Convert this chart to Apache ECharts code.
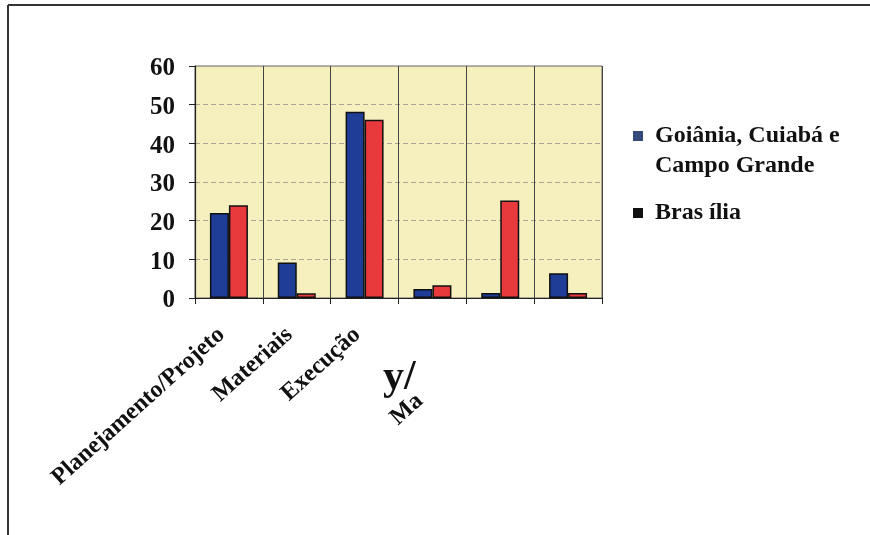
<!DOCTYPE html>
<html>
<head>
<meta charset="utf-8">
<script src="https://cdn.jsdelivr.net/npm/echarts@6/dist/echarts.min.js"></script>
<style>
html,body{margin:0;padding:0;background:#fff;}
#c{width:870px;height:535px;}
</style>
</head>
<body>
<div id="c"></div>
<script>
var categories = ['Planejamento/Projeto', 'Materiais', 'Execução', '', '', ''];
var seriesNames = ['Goiânia, Cuiabá e Campo Grande', 'Bras ília'];
var goianiaValues = [22, 9.2, 48.2, 2.3, 1.3, 6.4];
var brasiliaValues = [24, 1.2, 46.1, 3.3, 25.2, 1.3];
var yTicks = { min: 0, max: 60, interval: 10 };
var annotations = ['y/', 'Ma'];

var FONT = "'Liberation Serif', 'Times New Roman', serif";
var chart = echarts.init(document.getElementById('c'), null, { renderer: 'canvas' });

chart.setOption({
  backgroundColor: '#ffffff',
  animation: false,
  grid: {
    left: 195, right: 268, top: 66, bottom: 237,
    show: true,
    backgroundColor: '#f6f0be',
    borderColor: '#666',
    borderWidth: 1
  },
  legend: {
    orient: 'vertical',
    left: 628,
    top: 86,
    icon: 'rect',
    itemWidth: 10,
    itemHeight: 10,
    itemGap: 17,
    selectedMode: false,
    formatter: function (name) {
      return name === seriesNames[0] ? ' \nGoiânia, Cuiabá e\nCampo Grande' : name;
    },
    textStyle: {
      fontFamily: FONT, fontWeight: 'bold', fontSize: 24, color: '#111',
      lineHeight: 30, padding: [0, 0, 0, 7]
    },
    data: [
      { name: seriesNames[0], itemStyle: { color: '#34497a', borderWidth: 0 } },
      { name: seriesNames[1], itemStyle: { color: '#111111', borderWidth: 0 } }
    ]
  },
  xAxis: {
    type: 'category',
    data: categories,
    axisLine: { lineStyle: { color: '#222', width: 1.2 } },
    axisTick: { show: true, length: 6, lineStyle: { color: '#222' } },
    splitLine: { show: true, lineStyle: { color: '#444', width: 1 } },
    axisLabel: {
      interval: 0, rotate: 42, margin: 27, padding: [0, 10, 0, 0],
      fontFamily: FONT, fontWeight: 'bold', fontSize: 24, color: '#111'
    }
  },
  yAxis: {
    type: 'value',
    min: yTicks.min, max: yTicks.max, interval: yTicks.interval,
    axisLine: { show: true, lineStyle: { color: '#222', width: 1.2 } },
    axisTick: { show: true, length: 6, lineStyle: { color: '#222' } },
    splitLine: { show: true, lineStyle: { color: '#a8a594', type: [5, 3], width: 1 } },
    axisLabel: {
      margin: 20, verticalAlign: 'top', lineHeight: 6,
      fontFamily: FONT, fontWeight: 'bold', fontSize: 25, color: '#111'
    }
  },
  series: [
    {
      name: seriesNames[0], type: 'bar', data: goianiaValues,
      barWidth: 19, barGap: '0%',
      itemStyle: { color: '#1f3d96', borderColor: '#111', borderWidth: 1.5 }
    },
    {
      name: seriesNames[1], type: 'bar', data: brasiliaValues,
      barWidth: 19, barGap: '0%',
      itemStyle: { color: '#e8393d', borderColor: '#111', borderWidth: 1.5 }
    }
  ],
  graphic: [
    { type: 'line', shape: { x1: 8, y1: 5, x2: 870, y2: 5 }, style: { stroke: '#333', lineWidth: 2 } },
    { type: 'line', shape: { x1: 8, y1: 5, x2: 8, y2: 535 }, style: { stroke: '#333', lineWidth: 2 } },
    { type: 'text', left: 383, top: 357,
      style: { text: annotations[0], font: 'bold 42px ' + FONT, fill: '#111' } },
    { type: 'text', x: 402, y: 430, rotation: Math.PI * 42 / 180,
      style: { text: annotations[1], font: 'bold 24px ' + FONT, fill: '#111', textVerticalAlign: 'bottom' } }
  ]
});
</script>
</body>
</html>
